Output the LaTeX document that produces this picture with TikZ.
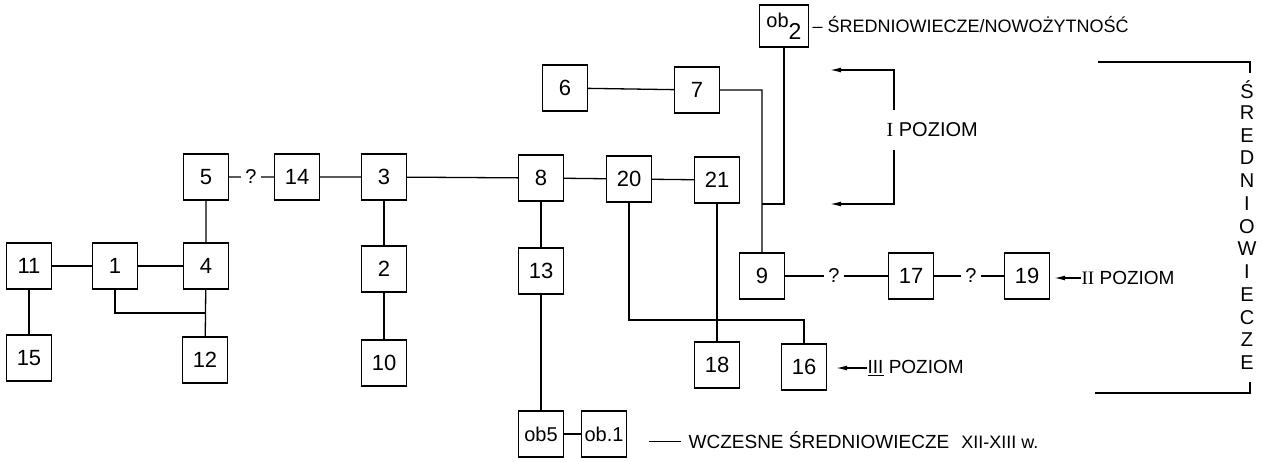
\documentclass[tikz,border=0pt]{standalone}
\usepackage{fontspec}
\setmainfont{Liberation Sans}
\newfontfamily\romfont{Liberation Serif}
\usetikzlibrary{arrows.meta}
\tikzset{
  obox/.style={draw,minimum width=45pt,minimum height=46pt,inner sep=0pt,font=\fontsize{22}{22}\selectfont},
  qmark/.style={inner sep=4pt,font=\fontsize{20}{20}\selectfont},
  lbl/.style={anchor=west,inner sep=0pt,font=\fontsize{19}{19}\selectfont},
  levarrow/.style={-{Latex[length=11pt,width=5pt]}},
}
\begin{document}
\begin{tikzpicture}[x=1pt,y=-1pt,line width=1.3pt]
\useasboundingbox (0,0) rectangle (1265,461);
\node[obox] (n11) at (29,266) {11};
\node[obox] (n15) at (29,358) {15};
\node[obox] (n1) at (115,266) {1};
\node[obox] (n4) at (206,266) {4};
\node[obox] (n5) at (206,177) {5};
\node[obox] (n12) at (205,360) {12};
\node[qmark] (q0) at (251,177) {?};
\node[obox] (n14) at (297,177) {14};
\node[obox] (n3) at (384,177) {3};
\node[obox] (n2) at (384,269) {2};
\node[obox] (n10) at (384,363) {10};
\node[obox] (n8) at (541,178) {8};
\node[obox] (n20) at (629,179) {20};
\node[obox] (n21) at (717,180) {21};
\node[obox] (n13) at (541,271) {13};
\node[obox,font=\fontsize{20}{20}\selectfont] (ob5) at (541,434) {ob5};
\node[obox,font=\fontsize{20}{20}\selectfont] (ob1) at (604,434) {ob.1};
\node[obox] (n6) at (565,88) {6};
\node[obox] (n7) at (697,90) {7};
\node[obox,minimum width=49pt,minimum height=42pt,font=\fontsize{20}{20}\selectfont] (ob2) at (784,26) {ob\raisebox{-12pt}{\fontsize{23}{23}\selectfont 2}};
\node[obox] (n18) at (717,365) {18};
\node[obox] (n9) at (762,276) {9};
\node[obox] (n16) at (804,367) {16};
\node[qmark] (q1) at (834,276) {?};
\node[obox] (n17) at (911,276) {17};
\node[qmark] (q2) at (971,276) {?};
\node[obox] (n19) at (1027,276) {19};
\coordinate (j12) at (205,313);
\coordinate (j9) at (762,204);
\coordinate (j16) at (804,320);
\draw (n11) -- (n1) -- (n4);
\draw (n11) -- (n15);
\draw (n5) -- (n4) -- (n12);
\draw (n1) |- (j12);
\draw (n5) -- (q0) -- (n14) -- (n3) -- (n8) -- (n20) -- (n21);
\draw (n3) -- (n2) -- (n10);
\draw (n8) -- (n13) -- (ob5) -- (ob1);
\draw (n6) -- (n7) -| (n9);
\draw (ob2) |- (j9);
\draw (n20) |- (j16) -- (n16);
\draw (n21) -- (n18);
\draw (n9) -- (q1) -- (n17) -- (q2) -- (n19);
\node[lbl,font=\fontsize{18}{18}\selectfont] (tnow) at (812,25) {– ŚREDNIOWIECZE/NOWOŻYTNOŚĆ};
\node[lbl,font=\fontsize{20}{20}\selectfont] (tlev1) at (886,130) {{\romfont I} POZIOM};
\coordinate (a1) at (830,70);
\coordinate (a2) at (830,204);
\draw[levarrow] ([xshift=8pt,yshift=12pt]tlev1.north west) |- (a1);
\draw[levarrow] ([xshift=8pt,yshift=-12pt]tlev1.south west) |- (a2);
\node[lbl] (tlev2) at (1081,278) {{\romfont II} POZIOM};
\draw[levarrow,shorten >=4pt] (tlev2.west) -- (tlev2.west -| n19.east);
\node[lbl] (tlev3) at (867,368) {\underline{III} POZIOM};
\draw[levarrow,shorten >=9pt] (tlev3.west) -- (tlev3.west -| n16.east);
\node[lbl] (tearly) at (648,440) {\rule[0.33em]{32pt}{1.2pt}\hspace{8pt}WCZESNE ŚREDNIOWIECZE\hspace{12pt}{\fontsize{18}{18}\selectfont XII-XIII w.}};
\coordinate (s1) at (1098,62);
\coordinate (s2) at (1250,73);
\coordinate (s3) at (1095,393);
\coordinate (s4) at (1250,382);
\draw (s1) -| (s2);
\draw (s3) -| (s4);
\foreach \c [count=\i] in {Ś,R,E,D,N,I,O,W,I,E,C,Z,E}
  \node[font=\fontsize{20}{20}\selectfont,inner sep=0pt] (sr\i) at (1247,{67+22.75*\i}) {\c};
\end{tikzpicture}
\end{document}
